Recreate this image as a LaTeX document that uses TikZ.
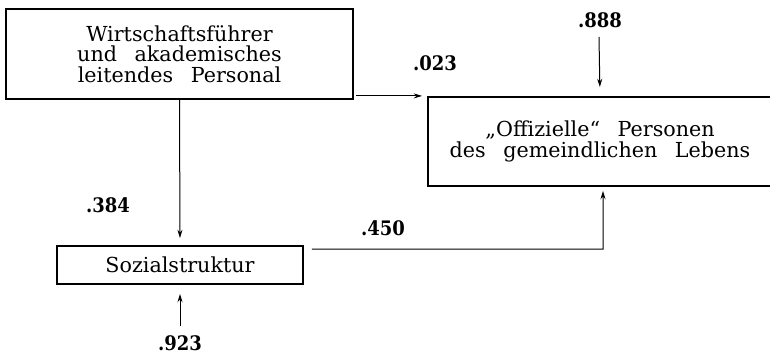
\documentclass[tikz,border=0pt]{standalone}
\usepackage{fontspec}
\setmainfont{DejaVu Serif}
\newfontfamily\coeffont{DejaVu Serif Condensed}
\usepackage{tikz}
\usetikzlibrary{positioning}
\usetikzlibrary{arrows.meta}
\newcommand{\boxfont}{\fontsize{12.4}{12.3}\selectfont\spaceskip=0.85em\relax}

\begin{document}
\begin{tikzpicture}[x=0.6pt, y=-0.6pt,
        box/.style={draw, line width=1.1pt, align=center, inner sep=0pt, font=\boxfont},
        arr/.style={-{Stealth[length=5pt, width=3pt]}, line width=0.6pt},
        coef/.style={inner sep=0pt, font=\coeffont\bfseries\fontsize{12}{12}\selectfont}]
                \useasboundingbox (0,0) rectangle (770,353);

                % Boxes
                \node[box, minimum width=208.2pt, minimum height=54pt] (wirt) at (179.5,54)
                    {Wirtschaftsführer\\und akademisches\\leitendes Personal};
                \node[box, minimum width=206.4pt, minimum height=53.4pt] (offi) at (600,141.5)
                    {„Offizielle“ Personen\\des gemeindlichen Lebens};
                \node[box, minimum width=147.6pt, minimum height=22.8pt] (sozi) at (180,265)
                    {Sozialstruktur};

                % Residual inputs
                \coordinate (resoffi) at (599,37);
                \coordinate (ressozi) at (180,326);
                \coordinate (knick) at (603,249);
                \coordinate (wirtout) at ([yshift=2.4pt, xshift=1.2pt]wirt.south east);

                % Paths
                \draw[arr, shorten >=4.2pt] (wirt.south) -- (sozi.north);
                \draw[arr, shorten >=3pt] (wirtout) -- (wirtout -| offi.west);
                \draw[arr, shorten >=5.4pt] (resoffi) -- (offi.north);
                \draw[arr, shorten >=5.4pt] (ressozi) -- (sozi.south);
                \draw[arr, shorten >=2.4pt] ([yshift=9.6pt, xshift=4.8pt]sozi.east) -- (knick) -- (knick |- offi.south);

                % Coefficients
                \node[coef] (c1) at (435,63) {.023};
                \node[coef] (c2) at (600,20) {.888};
                \node[coef] (c3) at (108,205) {.384};
                \node[coef] (c4) at (383,228) {.450};
                \node[coef] (c5) at (180,343) {.923};
            \end{tikzpicture}
\end{document}
